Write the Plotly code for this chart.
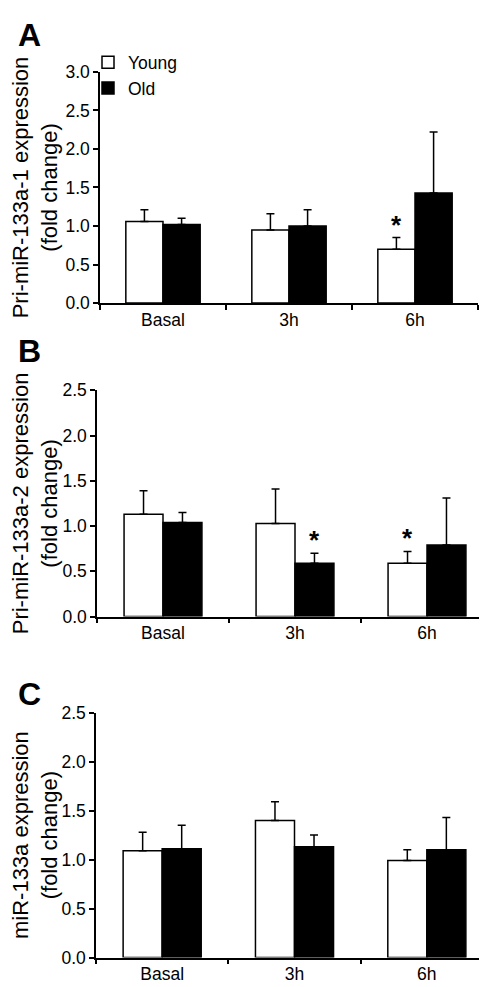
import plotly.graph_objects as go

categories = ["Basal", "3h", "6h"]

# Panel A: Pri-miR-133a-1
a_young = [1.06, 0.95, 0.70]
a_young_err = [0.15, 0.21, 0.15]
a_old = [1.02, 1.00, 1.43]
a_old_err = [0.08, 0.21, 0.79]
a_star_young = [False, False, True]
a_star_old = [False, False, False]

# Panel B: Pri-miR-133a-2
b_young = [1.13, 1.03, 0.59]
b_young_err = [0.26, 0.38, 0.13]
b_old = [1.04, 0.59, 0.79]
b_old_err = [0.11, 0.11, 0.52]
b_star_young = [False, False, True]
b_star_old = [False, True, False]

# Panel C: miR-133a
c_young = [1.09, 1.40, 0.99]
c_young_err = [0.19, 0.19, 0.11]
c_old = [1.11, 1.13, 1.10]
c_old_err = [0.24, 0.12, 0.33]
c_star_young = [False, False, False]
c_star_old = [False, False, False]

panels = [
    dict(letter="A", title="Pri-miR-133a-1 expression<br>(fold change)", ymax=3.0,
         young=a_young, young_err=a_young_err, old=a_old, old_err=a_old_err,
         sy=a_star_young, so=a_star_old,
         xdom=(92 / 487, 470 / 487), ydom=(1 - 291 / 987, 1 - 55 / 987), lab_y=1 - 17 / 987),
    dict(letter="B", title="Pri-miR-133a-2 expression<br>(fold change)", ymax=2.5,
         young=b_young, young_err=b_young_err, old=b_old, old_err=b_old_err,
         sy=b_star_young, so=b_star_old,
         xdom=(89 / 487, 485 / 487), ydom=(1 - 611 / 987, 1 - 380 / 987), lab_y=1 - 340 / 987),
    dict(letter="C", title="miR-133a expression<br>(fold change)", ymax=2.5,
         young=c_young, young_err=c_young_err, old=c_old, old_err=c_old_err,
         sy=c_star_young, so=c_star_old,
         xdom=(88 / 487, 485 / 487), ydom=(1 - 959 / 987, 1 - 709 / 987), lab_y=1 - 690 / 987),
]

FONT = "Arial, Liberation Sans, sans-serif"
TICKSIZE = 17.5
BARGAP = 0.41
half = (1 - BARGAP) / 4  # offset of each bar center from category center

fig = go.Figure()
layout = dict(
    width=487, height=987,
    margin=dict(l=0, r=0, t=0, b=0),
    paper_bgcolor="white", plot_bgcolor="white",
    barmode="group", bargap=BARGAP, bargroupgap=0,
    font=dict(family=FONT, size=TICKSIZE, color="black"),
    showlegend=True,
    legend=dict(x=80 / 487, y=1 - 27 / 987, xanchor="left", yanchor="top",
                bgcolor="rgba(0,0,0,0)", font=dict(size=TICKSIZE, family=FONT),
                tracegroupgap=0, itemwidth=30),
)
annotations = []

for i, p in enumerate(panels):
    n = "" if i == 0 else str(i + 1)
    xa, ya = "x" + n, "y" + n
    fig.add_trace(go.Bar(
        x=categories, y=p["young"], name="Young", xaxis=xa, yaxis=ya,
        marker=dict(color="white", line=dict(color="black", width=1.5)),
        error_y=dict(type="data", symmetric=False, array=p["young_err"],
                     arrayminus=[0] * len(categories), color="black", thickness=1.5, width=4),
        showlegend=(i == 0), legendgroup="young",
    ))
    fig.add_trace(go.Bar(
        x=categories, y=p["old"], name="Old", xaxis=xa, yaxis=ya,
        marker=dict(color="black", line=dict(color="black", width=1.5)),
        error_y=dict(type="data", symmetric=False, array=p["old_err"],
                     arrayminus=[0] * len(categories), color="black", thickness=1.5, width=4),
        showlegend=(i == 0), legendgroup="old",
    ))
    layout["xaxis" + n] = dict(
        domain=list(p["xdom"]), anchor=ya, type="category",
        categoryorder="array", categoryarray=categories,
        range=[-0.5, len(categories) - 0.5],
        showline=True, linecolor="black", linewidth=1.5,
        ticks="outside", tickson="boundaries", ticklen=5, tickwidth=1.5, tickcolor="black",
        showgrid=False, zeroline=False, tickfont=dict(size=TICKSIZE, family=FONT),
        fixedrange=True,
    )
    layout["yaxis" + n] = dict(
        domain=list(p["ydom"]), anchor=xa, range=[0, p["ymax"]], dtick=0.5,
        tickformat=".1f", showline=True, linecolor="black", linewidth=1.5,
        ticks="outside", ticklen=5, tickwidth=1.5, tickcolor="black",
        showgrid=False, zeroline=False, tickfont=dict(size=TICKSIZE, family=FONT),
        title=dict(text=p["title"], font=dict(size=22, family=FONT), standoff=8),
        fixedrange=True,
    )
    # panel letter
    annotations.append(dict(
        text="<b>%s</b>" % p["letter"], xref="paper", yref="paper",
        x=8 / 487, y=p["lab_y"], xanchor="left", yanchor="middle", showarrow=False,
        font=dict(size=32, family=FONT, color="black"),
    ))
    # significance stars
    for j, cat in enumerate(categories):
        for flag, vals, errs, off in ((p["sy"], p["young"], p["young_err"], -half),
                                      (p["so"], p["old"], p["old_err"], half)):
            if flag[j]:
                annotations.append(dict(
                    text="<b>*</b>", xref=xa, yref=ya, x=j + off, y=vals[j] + errs[j],
                    xanchor="center", yanchor="bottom", showarrow=False, yshift=-4,
                    font=dict(size=26, family=FONT, color="black"),
                ))

layout["annotations"] = annotations
fig.update_layout(**layout)
fig.write_html("out.html")
